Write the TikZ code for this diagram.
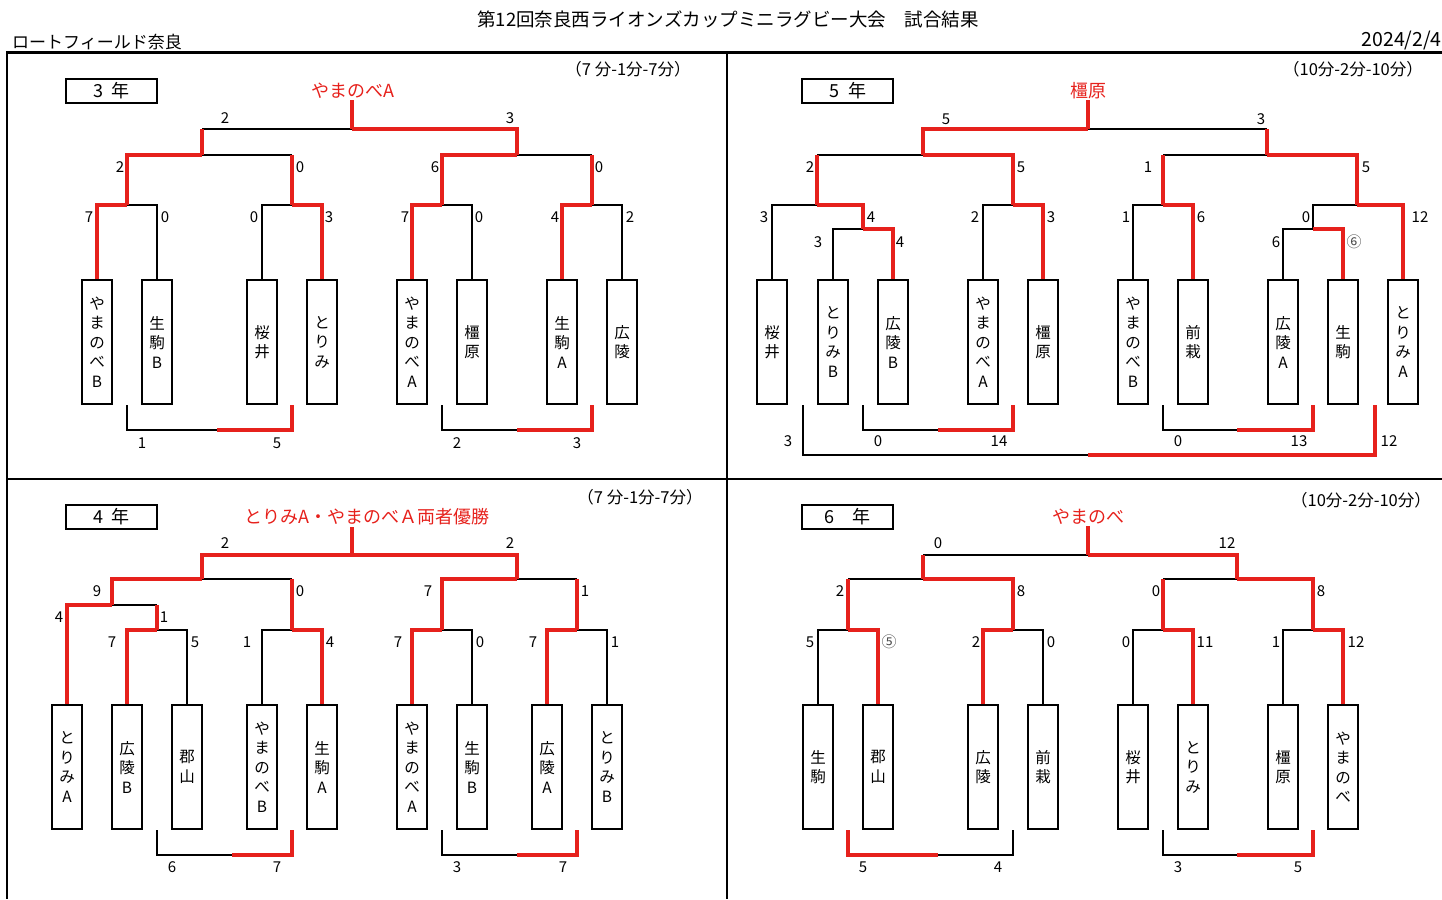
\documentclass[tikz,border=0pt]{standalone}
\usepackage{fontspec}
\setmainfont{Noto Sans CJK JP}
\definecolor{winred}{RGB}{230,33,28}

\begin{document}
\begin{tikzpicture}[x=1pt, y=-1pt,
    team/.style={draw, line width=2pt, minimum width=30pt, minimum height=124pt, inner sep=0pt, align=center, font=\fontsize{15.5}{19.5}\selectfont},
    win/.style={draw=winred, line width=4pt},
    lose/.style={draw=black, line width=2.2pt},
    score/.style={inner sep=0pt, font=\fontsize{15}{15}\selectfont},
    grade/.style={draw, line width=2.5pt, minimum width=91pt, minimum height=24pt, inner sep=0pt, font=\fontsize{18}{18}\selectfont},
    champ/.style={text=winred, inner sep=1pt, font=\fontsize{18}{18}\selectfont},
    timing/.style={inner sep=0pt, font=\fontsize{16.5}{16.5}\selectfont}]

    \useasboundingbox (0,0) rectangle (1442,899);

    % Header texts
    \node[inner sep=0pt, font=\fontsize{18.5}{18.5}\selectfont] (title) at (728,19) {第12回奈良西ライオンズカップミニラグビー大会　試合結果};
    \node[inner sep=0pt, anchor=west, font=\fontsize{17}{17}\selectfont] (venue) at (12,42) {ロートフィールド奈良};
    \node[inner sep=0pt, anchor=east, font=\fontsize{19.5}{19.5}\selectfont] (date) at (1442,41) {2024/2/4};

    % Frame of the four panels
    \draw[line width=3pt] (6,53) -- (1442,53);
    \draw[line width=2.5pt] (7,53) -- (7,899);
    \draw[line width=2.5pt] (727,53) -- (727,899);
    \draw[line width=2.5pt] (6,479) -- (1442,479);

    % ---------------- 3 nen ----------------
    \node[grade] (g3) at (111.5,91) {3\enspace 年};
    \node[champ] (w3) at (353,91) {やまのべA};
    \node[timing] (r3) at (628,69) {（7 分-1分-7分）};

    \node[team] (t3a) at (97,342) {や\\ま\\の\\べ\\B};
    \node[team] (t3b) at (157,342) {生\\駒\\B};
    \node[team] (t3c) at (262,342) {桜\\井};
    \node[team] (t3d) at (322,342) {と\\り\\み};
    \node[team] (t3e) at (412,342) {や\\ま\\の\\べ\\A};
    \node[team] (t3f) at (472,342) {橿\\原};
    \node[team] (t3g) at (562,342) {生\\駒\\A};
    \node[team] (t3h) at (622,342) {広\\陵};

    \coordinate (c3a) at (127,205);
    \coordinate (c3b) at (292,205);
    \coordinate (c3c) at (442,205);
    \coordinate (c3d) at (592,205);
    \coordinate (c3e) at (202,155);
    \coordinate (c3f) at (517,155);
    \coordinate (f3) at (352,129);
    \coordinate (b3a) at (217,430);
    \coordinate (b3b) at (517,430);

    % losing sides
    \draw[lose] (t3b.north) |- (c3a);
    \draw[lose] (t3c.north) |- (c3b);
    \draw[lose] (t3f.north) |- (c3c);
    \draw[lose] (t3h.north) |- (c3d);
    \draw[lose] (c3b |- c3e) -- (c3e);
    \draw[lose] (c3d |- c3f) -- (c3f);
    \draw[lose] (c3e |- f3) -- (f3);
    \draw[lose] (c3a |- t3a.south) |- (b3a);
    \draw[lose] (c3c |- t3a.south) |- (b3b);
    % winning sides
    \draw[win] (t3a.north) |- (c3a);
    \draw[win] (t3d.north) |- (c3b);
    \draw[win] (t3e.north) |- (c3c);
    \draw[win] (t3g.north) |- (c3d);
    \draw[win] (c3a) |- (c3e);
    \draw[win] (c3b) -- (c3b |- c3e);
    \draw[win] (c3c) |- (c3f);
    \draw[win] (c3d) -- (c3d |- c3f);
    \draw[win] (c3e) -- (c3e |- f3);
    \draw[win] (c3f) |- (f3);
    \draw[win] (f3) -- (f3 |- w3.south);
    \draw[win] (c3b |- t3a.south) |- (b3a);
    \draw[win] (c3d |- t3a.south) |- (b3b);

    \foreach \px/\py/\s [count=\i] in {225/118/2, 510/118/3, 120/167/2, 300/167/0, 435/167/6, 599/167/0,
        89/217/7, 165/217/0, 254/217/0, 329/217/3, 405/217/7, 479/217/0, 555/217/4, 630/217/2,
        142/443/1, 277/443/5, 457/443/2, 577/443/3}
        \node[score] (s3-\i) at (\px,\py) {\s};

    % ---------------- 5 nen ----------------
    \node[grade] (g5) at (847.5,91) {5\enspace 年};
    \node[champ] (w5) at (1088,91) {橿原};
    \node[timing] (r5) at (1353,69) {（10分-2分-10分）};

    \node[team] (t5a) at (772,342) {桜\\井};
    \node[team] (t5b) at (833,342) {と\\り\\み\\B};
    \node[team] (t5c) at (893,342) {広\\陵\\B};
    \node[team] (t5d) at (983,342) {や\\ま\\の\\べ\\A};
    \node[team] (t5e) at (1043,342) {橿\\原};
    \node[team] (t5f) at (1133,342) {や\\ま\\の\\べ\\B};
    \node[team] (t5g) at (1193,342) {前\\栽};
    \node[team] (t5h) at (1283,342) {広\\陵\\A};
    \node[team] (t5i) at (1343,342) {生\\駒};
    \node[team] (t5j) at (1403,342) {と\\り\\み\\A};

    \coordinate (c5a) at (863,229);
    \coordinate (c5b) at (817,205);
    \coordinate (c5c) at (1013,205);
    \coordinate (c5d) at (923,155);
    \coordinate (c5e) at (1313,229);
    \coordinate (c5f) at (1163,205);
    \coordinate (c5g) at (1357,205);
    \coordinate (c5h) at (1267,155);
    \coordinate (f5) at (1088,129);
    \coordinate (e5a) at (803,405);
    \coordinate (e5b) at (1375,405);
    \coordinate (b5a) at (938,430);
    \coordinate (b5b) at (1088,455);
    \coordinate (b5c) at (1237,430);

    % losing sides
    \draw[lose] (t5a.north) |- (c5b);
    \draw[lose] (t5b.north) |- (c5a);
    \draw[lose] (t5d.north) |- (c5c);
    \draw[lose] (c5b |- c5d) -- (c5d);
    \draw[lose] (t5f.north) |- (c5f);
    \draw[lose] (t5h.north) |- (c5e);
    \draw[lose] (c5e) |- (c5g);
    \draw[lose] (c5f |- c5h) -- (c5h);
    \draw[lose] (c5h |- f5) -- (f5);
    \draw[lose] (c5a |- t5a.south) |- (b5a);
    \draw[lose] (e5a) |- (b5b);
    \draw[lose] (c5f |- t5a.south) |- (b5c);
    % winning sides
    \draw[win] (t5c.north) |- (c5a);
    \draw[win] (c5a) |- (c5b);
    \draw[win] (t5e.north) |- (c5c);
    \draw[win] (c5b) -- (c5b |- c5d);
    \draw[win] (c5c) |- (c5d);
    \draw[win] (c5d) |- (f5);
    \draw[win] (f5) -- (f5 |- w5.south);
    \draw[win] (t5g.north) |- (c5f);
    \draw[win] (t5i.north) |- (c5e);
    \draw[win] (t5j.north) |- (c5g);
    \draw[win] (c5f) -- (c5f |- c5h);
    \draw[win] (c5g) |- (c5h);
    \draw[win] (c5h) -- (c5h |- f5);
    \draw[win] (c5c |- t5a.south) |- (b5a);
    \draw[win] (e5b) |- (b5b);
    \draw[win] (c5e |- t5a.south) |- (b5c);

    \foreach \px/\py/\s [count=\i] in {946/119/5, 1261/119/3, 810/167/2, 1021/167/5, 1148/167/1, 1366/167/5,
        764/217/3, 871/217/4, 975/217/2, 1051/217/3, 818/242/3, 900/242/4,
        1126/217/1, 1201/217/6, 1306/217/0, 1420/217/12, 1276/242/6,
        788/441/3, 878/441/0, 999/441/14, 1178/441/0, 1299/441/13, 1389/441/12}
        \node[score] (s5-\i) at (\px,\py) {\s};
    \node[score, text=black!70] (s5-x) at (1354,242) {⑥};

    % ---------------- 4 nen ----------------
    \node[grade] (g4) at (111.5,517) {4\enspace 年};
    \node[champ] (w4) at (367,517) {とりみA・やまのべＡ両者優勝};
    \node[timing] (r4) at (640,497) {（7 分-1分-7分）};

    \node[team] (t4a) at (67,767) {と\\り\\み\\A};
    \node[team] (t4b) at (127,767) {広\\陵\\B};
    \node[team] (t4c) at (187,767) {郡\\山};
    \node[team] (t4d) at (262,767) {や\\ま\\の\\べ\\B};
    \node[team] (t4e) at (322,767) {生\\駒\\A};
    \node[team] (t4f) at (412,767) {や\\ま\\の\\べ\\A};
    \node[team] (t4g) at (472,767) {生\\駒\\B};
    \node[team] (t4h) at (547,767) {広\\陵\\A};
    \node[team] (t4i) at (607,767) {と\\り\\み\\B};

    \coordinate (c4a) at (157,630);
    \coordinate (c4b) at (112,605);
    \coordinate (c4c) at (292,630);
    \coordinate (c4d) at (202,579);
    \coordinate (c4e) at (442,630);
    \coordinate (c4f) at (577,630);
    \coordinate (c4g) at (517,579);
    \coordinate (f4) at (352,555);
    \coordinate (b4a) at (232,855);
    \coordinate (b4b) at (517,855);

    % losing sides
    \draw[lose] (t4c.north) |- (c4a);
    \draw[lose] (c4a |- c4b) -- (c4b);
    \draw[lose] (t4d.north) |- (c4c);
    \draw[lose] (c4c |- c4d) -- (c4d);
    \draw[lose] (t4g.north) |- (c4e);
    \draw[lose] (t4i.north) |- (c4f);
    \draw[lose] (c4f |- c4g) -- (c4g);
    \draw[lose] (c4a |- t4a.south) |- (b4a);
    \draw[lose] (c4e |- t4a.south) |- (b4b);
    % winning sides
    \draw[win] (t4b.north) |- (c4a);
    \draw[win] (c4a) -- (c4a |- c4b);
    \draw[win] (t4a.north) |- (c4b);
    \draw[win] (c4b) |- (c4d);
    \draw[win] (t4e.north) |- (c4c);
    \draw[win] (c4c) -- (c4c |- c4d);
    \draw[win] (c4d) |- (f4);
    \draw[win] (t4f.north) |- (c4e);
    \draw[win] (c4e) |- (c4g);
    \draw[win] (t4h.north) |- (c4f);
    \draw[win] (c4f) -- (c4f |- c4g);
    \draw[win] (c4g) |- (f4);
    \draw[win] (f4) -- (f4 |- w4.south);
    \draw[win] (c4c |- t4a.south) |- (b4a);
    \draw[win] (c4f |- t4a.south) |- (b4b);

    \foreach \px/\py/\s [count=\i] in {225/543/2, 510/543/2, 97/591/9, 300/591/0, 428/591/7, 585/591/1,
        59/617/4, 164/617/1, 112/642/7, 195/642/5, 247/642/1, 330/642/4,
        398/642/7, 480/642/0, 533/642/7, 615/642/1,
        172/867/6, 277/867/7, 457/867/3, 563/867/7}
        \node[score] (s4-\i) at (\px,\py) {\s};

    % ---------------- 6 nen ----------------
    \node[grade] (g6) at (847.5,517) {6\quad 年};
    \node[champ] (w6) at (1088,517) {やまのべ};
    \node[timing] (r6) at (1361,500) {（10分-2分-10分）};

    \node[team] (t6a) at (818,767) {生\\駒};
    \node[team] (t6b) at (878,767) {郡\\山};
    \node[team] (t6c) at (983,767) {広\\陵};
    \node[team] (t6d) at (1043,767) {前\\栽};
    \node[team] (t6e) at (1133,767) {桜\\井};
    \node[team] (t6f) at (1193,767) {と\\り\\み};
    \node[team] (t6g) at (1283,767) {橿\\原};
    \node[team] (t6h) at (1343,767) {や\\ま\\の\\べ};

    \coordinate (c6a) at (848,630);
    \coordinate (c6b) at (1013,630);
    \coordinate (c6c) at (923,579);
    \coordinate (c6d) at (1163,630);
    \coordinate (c6e) at (1313,630);
    \coordinate (c6f) at (1237,579);
    \coordinate (f6) at (1088,555);
    \coordinate (b6a) at (938,855);
    \coordinate (b6b) at (1237,855);

    % losing sides
    \draw[lose] (t6a.north) |- (c6a);
    \draw[lose] (t6d.north) |- (c6b);
    \draw[lose] (c6a |- c6c) -- (c6c);
    \draw[lose] (c6c |- f6) -- (f6);
    \draw[lose] (t6e.north) |- (c6d);
    \draw[lose] (t6g.north) |- (c6e);
    \draw[lose] (c6d |- c6f) -- (c6f);
    \draw[lose] (c6b |- t6a.south) |- (b6a);
    \draw[lose] (c6d |- t6a.south) |- (b6b);
    % winning sides
    \draw[win] (t6b.north) |- (c6a);
    \draw[win] (t6c.north) |- (c6b);
    \draw[win] (c6a) -- (c6a |- c6c);
    \draw[win] (c6b) |- (c6c);
    \draw[win] (c6c) -- (c6c |- f6);
    \draw[win] (t6f.north) |- (c6d);
    \draw[win] (t6h.north) |- (c6e);
    \draw[win] (c6d) -- (c6d |- c6f);
    \draw[win] (c6e) |- (c6f);
    \draw[win] (c6f) |- (f6);
    \draw[win] (f6) -- (f6 |- w6.south);
    \draw[win] (c6a |- t6a.south) |- (b6a);
    \draw[win] (c6e |- t6a.south) |- (b6b);

    \foreach \px/\py/\s [count=\i] in {938/543/0, 1227/543/12, 840/591/2, 1021/591/8, 1156/591/0, 1321/591/8,
        810/642/5, 976/642/2, 1051/642/0, 1126/642/0, 1205/642/11, 1276/642/1, 1356/642/12,
        863/867/5, 998/867/4, 1178/867/3, 1298/867/5}
        \node[score] (s6-\i) at (\px,\py) {\s};
    \node[score, text=black!70] (s6-x) at (889,642) {⑤};

\end{tikzpicture}
\end{document}
